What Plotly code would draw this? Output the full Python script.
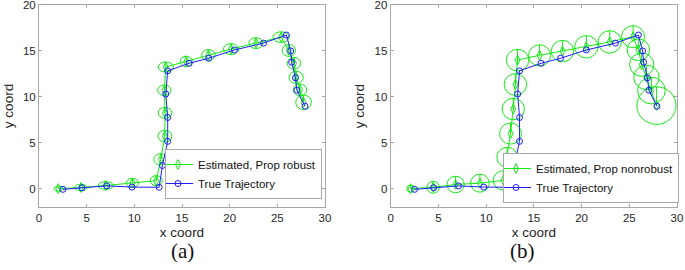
import plotly.graph_objects as go

# ---- data ----
true_x = [2.5, 4.5, 7.1, 9.75, 12.6, 12.95, 13.5, 13.5, 13.3, 13.5, 15.75, 17.8, 20.5, 23.55, 25.95, 26.4, 26.5, 26.9, 27.05, 27.9]
true_y = [-0.08, 0.1, 0.3, 0.17, 0.15, 2.52, 5.15, 7.75, 10.3, 12.83, 13.65, 14.2, 15.1, 15.85, 16.73, 15.0, 13.77, 12.07, 10.72, 8.98]

rob_x = [2.03, 4.4, 7.0, 9.8, 12.3, 12.78, 13.2, 13.22, 13.15, 13.3, 15.45, 17.76, 20.15, 22.75, 25.4, 26.2, 26.75, 26.98, 27.38, 27.75]
rob_y = [0.0, 0.12, 0.34, 0.63, 0.87, 3.18, 5.72, 8.25, 10.72, 13.25, 13.85, 14.55, 15.2, 15.85, 16.5, 15.05, 13.65, 12.12, 10.75, 9.4]
rob_rx = [0.44, 0.65, 0.8, 0.65, 0.63, 0.73, 0.73, 0.72, 0.7, 0.79, 0.63, 0.7, 0.8, 0.73, 0.84, 0.7, 0.7, 0.75, 0.7, 0.82]
rob_ry = [0.27, 0.36, 0.42, 0.5, 0.55, 0.62, 0.64, 0.6, 0.58, 0.55, 0.58, 0.6, 0.6, 0.6, 0.58, 0.65, 0.65, 0.67, 0.64, 0.8]

non_x = [2.09, 4.45, 6.8, 9.35, 11.79, 12.2, 12.56, 12.84, 13.07, 13.29, 15.6, 18.0, 20.5, 22.95, 25.4, 25.95, 26.3, 26.8, 27.32, 27.85]
non_y = [0.0, 0.15, 0.45, 0.6, 0.9, 3.42, 6.0, 8.67, 11.34, 14.0, 14.52, 14.98, 15.45, 15.98, 16.55, 15.12, 13.5, 12.12, 10.68, 9.05]
non_r = [0.4, 0.65, 0.9, 0.98, 1.05, 1.08, 1.15, 1.17, 1.18, 1.18, 1.15, 1.17, 1.22, 1.22, 1.2, 1.18, 1.27, 1.33, 1.45, 2.05]

x_ticks = [0, 5, 10, 15, 20, 25, 30]
y_ticks = [0, 5, 10, 15, 20]

GREEN = "rgb(20,235,20)"
BLUE = "rgb(30,30,255)"
FONT = "Liberation Sans, Arial, sans-serif"

fig = go.Figure()

# panel (a)
fig.add_trace(go.Scatter(x=rob_x, y=rob_y, mode="lines+markers", name="Estimated, Prop robust",
                         line=dict(color=GREEN, width=1),
                         marker=dict(symbol="diamond-tall-open", size=7, color=GREEN, line=dict(width=1)),
                         xaxis="x", yaxis="y", legend="legend"))
fig.add_trace(go.Scatter(x=true_x, y=true_y, mode="lines+markers", name="True Trajectory",
                         line=dict(color=BLUE, width=1),
                         marker=dict(symbol="circle-open", size=6, color=BLUE, line=dict(width=1)),
                         xaxis="x", yaxis="y", legend="legend"))
# panel (b)
fig.add_trace(go.Scatter(x=non_x, y=non_y, mode="lines+markers", name="Estimated, Prop nonrobust",
                         line=dict(color=GREEN, width=1),
                         marker=dict(symbol="diamond-tall-open", size=7, color=GREEN, line=dict(width=1)),
                         xaxis="x2", yaxis="y2", legend="legend2"))
fig.add_trace(go.Scatter(x=true_x, y=true_y, mode="lines+markers", name="True Trajectory",
                         line=dict(color=BLUE, width=1),
                         marker=dict(symbol="circle-open", size=6, color=BLUE, line=dict(width=1)),
                         xaxis="x2", yaxis="y2", legend="legend2"))

shapes = []
for cx, cy, rx, ry in zip(rob_x, rob_y, rob_rx, rob_ry):
    shapes.append(dict(type="circle", xref="x", yref="y", x0=cx - rx, x1=cx + rx, y0=cy - ry, y1=cy + ry,
                       line=dict(color=GREEN, width=1), layer="below"))
    shapes.append(dict(type="line", xref="x", yref="y", x0=cx, x1=cx, y0=cy, y1=cy + ry,
                       line=dict(color=GREEN, width=1), layer="below"))
for cx, cy, r in zip(non_x, non_y, non_r):
    shapes.append(dict(type="circle", xref="x2", yref="y2", x0=cx - r, x1=cx + r, y0=cy - r, y1=cy + r,
                       line=dict(color=GREEN, width=1), layer="below"))
    shapes.append(dict(type="line", xref="x2", yref="y2", x0=cx, x1=cx, y0=cy, y1=cy + r,
                       line=dict(color=GREEN, width=1), layer="below"))

W, H = 685, 270
y_dom = [(H - 207) / H, (H - 5) / H]

axis_common = dict(showline=True, linecolor="#a8a8a8", linewidth=1, mirror="ticks",
                   ticks="inside", ticklen=3, tickcolor="#a8a8a8", showgrid=False, zeroline=False,
                   ticklabeloverflow="allow", automargin=False,
                   tickfont=dict(family=FONT, size=11.5, color="#262626"))

legend_common = dict(xanchor="right", yanchor="bottom", bordercolor="#a8a8a8", borderwidth=1,
                     bgcolor="white", font=dict(family=FONT, size=11.5, color="#111"),
                     tracegroupgap=0, itemwidth=30, indentation=-8)

fig.update_layout(
    width=W, height=H, margin=dict(l=0, r=0, t=0, b=0, autoexpand=False),
    paper_bgcolor="white", plot_bgcolor="white",
    font=dict(family=FONT, color="#262626"),
    xaxis=dict(domain=[39 / W, 325 / W], range=[0, 30], tickvals=x_ticks, anchor="y",
               title=dict(text="x coord", font=dict(size=13.5), standoff=4), **axis_common),
    yaxis=dict(domain=y_dom, range=[-2, 20], tickvals=y_ticks, anchor="x",
               title=dict(text="y coord", font=dict(size=13.5), standoff=6), **axis_common),
    xaxis2=dict(domain=[390.7 / W, 677 / W], range=[0, 30], tickvals=x_ticks, anchor="y2",
                title=dict(text="x coord", font=dict(size=13.5), standoff=4), **axis_common),
    yaxis2=dict(domain=y_dom, range=[-2, 20], tickvals=y_ticks, anchor="x2",
                title=dict(text="y coord", font=dict(size=13.5), standoff=6), **axis_common),
    legend=dict(x=322 / W, y=(H - 199) / H, **legend_common),
    legend2=dict(x=679 / W, y=(H - 203) / H, **legend_common),
    shapes=shapes,
    annotations=[
        dict(text="(a)", x=183 / W, y=(H - 251) / H, xref="paper", yref="paper", showarrow=False,
             xanchor="center", yanchor="middle",
             font=dict(family="Liberation Serif, serif", size=21, color="#111")),
        dict(text="(b)", x=522 / W, y=(H - 251) / H, xref="paper", yref="paper", showarrow=False,
             xanchor="center", yanchor="middle",
             font=dict(family="Liberation Serif, serif", size=21, color="#111")),
    ],
)

fig.write_html("out.html", config={"displayModeBar": False},
               post_script="document.body.style.margin='0';document.body.style.overflow='hidden';")
